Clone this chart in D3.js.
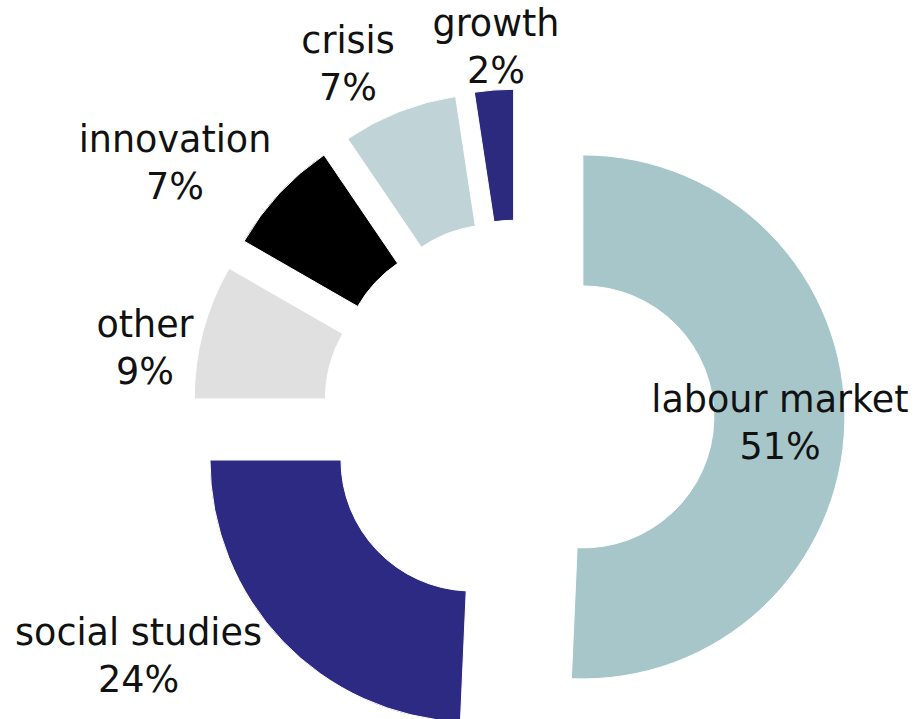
<!DOCTYPE html>
<html>
<head>
<meta charset="utf-8">
<script src="https://cdn.jsdelivr.net/npm/d3@7"></script>
<style>
  html, body { margin: 0; padding: 0; background: #ffffff; }
  svg { display: block; }
  text { font-family: "DejaVu Sans", Verdana, sans-serif; fill: #111; }
</style>
</head>
<body>
<svg id="chart" width="917" height="719"></svg>
<script>
// ---- data ----
const categories = ["labour market", "social studies", "other", "innovation", "crisis", "growth"];
const values = [50.7, 24.3, 8.3, 7.2, 7.1, 2.4];
const percentLabels = ["51%", "24%", "9%", "7%", "7%", "2%"];
const colors = ["#a6c6c9", "#2d2a83", "#e0e0e0", "#000000", "#c0d4d7", "#2b2a7e"];

// ---- layout ----
const W = 917, H = 719;
const cx = 518.5, cy = 415.5;
const outerR = 262, innerR = 131, explode = 64.4;
const fontSize = 36.5, lineGap = 46.5;
// label anchor points: centre x and first-line baseline
const labelPos = [
  [780, 412], [138.5, 645], [145, 337], [175, 152], [348, 53], [496, 36]
];

const svg = d3.select("#chart");
const g = svg.append("g").attr("transform", `translate(${cx},${cy})`);

const pie = d3.pie().sort(null).value(d => d.value);
const arc = d3.arc().innerRadius(innerR).outerRadius(outerR);

const data = categories.map((c, i) => ({ name: c, value: values[i], label: percentLabels[i], color: colors[i] }));
const arcs = pie(data);

g.selectAll("path.slice")
  .data(arcs)
  .join("path")
  .attr("class", "slice")
  .attr("d", arc)
  .attr("fill", d => d.data.color)
  .attr("stroke", "#ffffff")
  .attr("stroke-width", 1)
  .attr("transform", d => {
    const mid = (d.startAngle + d.endAngle) / 2;
    return `translate(${explode * Math.sin(mid)},${-explode * Math.cos(mid)})`;
  });

const labels = svg.selectAll("text.lbl")
  .data(arcs)
  .join("text")
  .attr("class", "lbl")
  .attr("text-anchor", "middle")
  .attr("font-size", fontSize)
  .attr("transform", (d, i) => `translate(${labelPos[i][0]},${labelPos[i][1]})`);

labels.append("tspan").attr("x", 0).attr("y", 0).text(d => d.data.name);
labels.append("tspan").attr("x", 0).attr("y", lineGap).text(d => d.data.label);
</script>
</body>
</html>
